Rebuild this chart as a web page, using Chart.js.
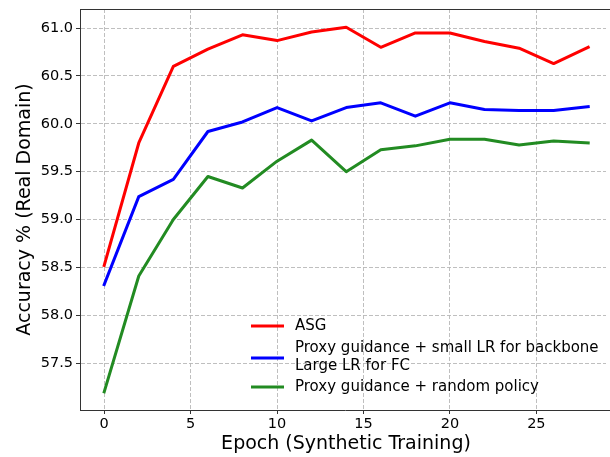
<!DOCTYPE html>
<html>
<head>
<meta charset="utf-8">
<script src="https://cdn.jsdelivr.net/npm/chart.js@4/dist/chart.umd.min.js"></script>
<style>
html,body{margin:0;padding:0;background:#fff;overflow:hidden;}
canvas{display:block;}
</style>
</head>
<body>
<canvas id="c" width="610" height="457" style="width:610px;height:457px"></canvas>
<script>
const epochs = [0, 2, 4, 6, 8, 10, 12, 14, 16, 18, 20, 22, 24, 26, 28];
const asg = [58.52, 59.80, 60.60, 60.78, 60.93, 60.87, 60.96, 61.01, 60.80, 60.95, 60.95, 60.86, 60.79, 60.63, 60.80];
const proxySmallLR = [58.32, 59.24, 59.42, 59.92, 60.02, 60.17, 60.03, 60.17, 60.22, 60.08, 60.22, 60.15, 60.14, 60.14, 60.18];
const proxyRandom = [57.20, 58.41, 59.00, 59.45, 59.33, 59.61, 59.83, 59.50, 59.73, 59.77, 59.84, 59.84, 59.78, 59.82, 59.80];
const xTicks = [0, 5, 10, 15, 20, 25];
const yTicks = [57.5, 58.0, 58.5, 59.0, 59.5, 60.0, 60.5, 61.0];
const seriesNames = ["ASG", ["Proxy guidance + small LR for backbone", "Large LR for FC"], "Proxy guidance + random policy"];
const seriesColors = ["#ff0000", "#0000ff", "#228b22"];
const xTitle = "Epoch (Synthetic Training)";
const yTitle = "Accuracy % (Real Domain)";

const FONT = "'DejaVu Sans', sans-serif";
const allSeries = [asg, proxySmallLR, proxyRandom];

const datasets = allSeries.map((vals, i) => ({
  label: Array.isArray(seriesNames[i]) ? seriesNames[i].join(' ') : seriesNames[i],
  data: epochs.map((e, k) => ({x: e, y: vals[k]})),
  borderColor: seriesColors[i],
  backgroundColor: seriesColors[i],
  borderWidth: 3,
  pointRadius: 0,
  tension: 0,
  fill: false,
  borderCapStyle: 'square',
  borderJoinStyle: 'round'
}));

const decor = {
  id: 'decor',
  afterDraw(chart) {
    const ctx = chart.ctx;
    const a = chart.chartArea;
    ctx.save();
    ctx.fillStyle = '#fff';
    ctx.fillRect(a.right - 4, a.top + 1, 4, a.bottom - a.top - 2);
    ctx.strokeStyle = '#333';
    ctx.lineWidth = 1;
    ctx.beginPath();
    ctx.moveTo(a.left, a.top + 0.5);
    ctx.lineTo(a.right, a.top + 0.5);
    ctx.stroke();
    ctx.fillStyle = '#000';
    ctx.font = '19px ' + FONT;
    ctx.textAlign = 'center';
    ctx.textBaseline = 'middle';
    ctx.fillText(xTitle, (a.left + 612) / 2, 444);
    ctx.save();
    ctx.translate(25, (a.top + a.bottom) / 2);
    ctx.rotate(-Math.PI / 2);
    ctx.fillText(yTitle, 0, 0);
    ctx.restore();
    const hx1 = 251, hx2 = 284, tx = 295;
    const items = [
      {lines: [seriesNames[0]], ty: [326], hy: 326},
      {lines: seriesNames[1], ty: [348.5, 366.5], hy: 358},
      {lines: [seriesNames[2]], ty: [387], hy: 387}
    ];
    ctx.font = '15px ' + FONT;
    ctx.textAlign = 'left';
    items.forEach((it, i) => {
      ctx.strokeStyle = seriesColors[i];
      ctx.lineWidth = 3;
      ctx.beginPath();
      ctx.moveTo(hx1, it.hy);
      ctx.lineTo(hx2, it.hy);
      ctx.stroke();
      ctx.fillStyle = '#000';
      it.lines.forEach((t, j) => ctx.fillText(t, tx, it.ty[j]));
    });
    ctx.restore();
  }
};

const gridOpts = {color: '#b8b8b8', lineWidth: 0.9, tickLength: 4, tickColor: '#333', tickWidth: 1, tickBorderDash: []};
const borderOpts = {display: true, color: '#333', width: 1, dash: [4, 2]};

new Chart(document.getElementById('c'), {
  type: 'line',
  data: {datasets},
  options: {
    responsive: false,
    maintainAspectRatio: false,
    animation: false,
    devicePixelRatio: 1,
    layout: {padding: {top: 9, right: 0, left: 0, bottom: 0}},
    plugins: {legend: {display: false}, tooltip: {enabled: false}},
    scales: {
      x: {
        type: 'linear',
        min: -1.4,
        max: 29.26,
        afterFit: s => { s.height = 47; s.paddingLeft = 0; s.paddingRight = 0; s.paddingTop = 0; s.paddingBottom = 0; },
        afterBuildTicks: s => { s.ticks = xTicks.map(v => ({value: v})); },
        ticks: {
          font: {family: FONT, size: 14.5},
          color: '#000',
          padding: 2,
          maxRotation: 0,
          autoSkip: false,
          callback: v => String(v)
        },
        grid: gridOpts,
        border: borderOpts
      },
      y: {
        type: 'linear',
        min: 57.01,
        max: 61.2,
        afterFit: s => { s.width = 80; s.paddingLeft = 0; s.paddingRight = 0; s.paddingTop = 0; s.paddingBottom = 0; },
        afterBuildTicks: s => { s.ticks = yTicks.map(v => ({value: v})); },
        ticks: {
          font: {family: FONT, size: 14.5},
          color: '#000',
          padding: 3,
          autoSkip: false,
          callback: v => Number(v).toFixed(1)
        },
        grid: gridOpts,
        border: borderOpts
      }
    }
  },
  plugins: [decor]
});
</script>
</body>
</html>
